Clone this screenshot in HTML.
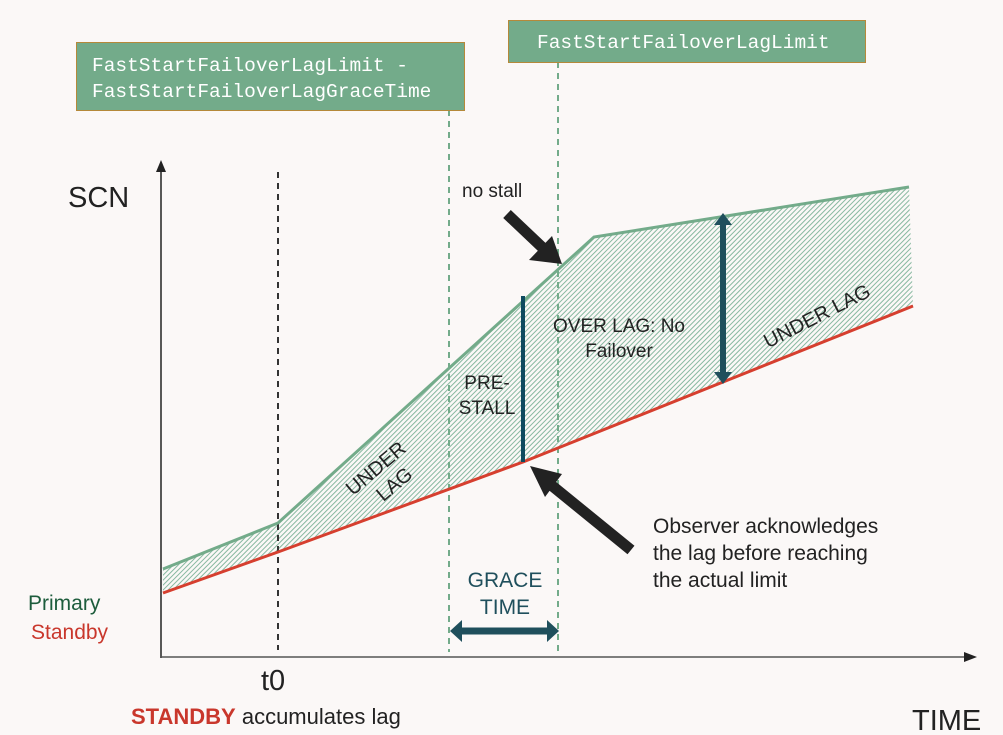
<!DOCTYPE html>
<html><head><meta charset="utf-8"><style>
html,body{margin:0;padding:0;background:#fbf8f7;}
svg{display:block;}
text{font-family:"Liberation Sans","DejaVu Sans",sans-serif;}
.mono{font-family:"Liberation Mono",monospace;font-size:19.5px;fill:#fff;}
</style></head><body>
<svg width="1003" height="735" viewBox="0 0 1003 735" xmlns="http://www.w3.org/2000/svg">
<defs>
<pattern id="h" width="3.5" height="3.5" patternUnits="userSpaceOnUse" patternTransform="rotate(45)">
<rect width="3.5" height="3.5" fill="#fbf8f7"/>
<rect width="1" height="3.5" fill="#6aa88a"/>
</pattern>
</defs>
<rect width="1003" height="735" fill="#fbf8f7"/>
<polygon points="163,569 278,523 594,237 909,187 913,306 523,462 278,552 163,593" fill="url(#h)" opacity="0.8"/>
<line x1="161" y1="170" x2="161" y2="658" stroke="#222" stroke-width="1.5"/>
<polygon points="161,160 156,172 166,172" fill="#222"/>
<line x1="161" y1="657" x2="966" y2="657" stroke="#555" stroke-width="1.5"/>
<polygon points="977,657 964,652 964,662" fill="#222"/>
<line x1="278" y1="172" x2="278" y2="650" stroke="#333" stroke-width="2" stroke-dasharray="6,5"/>
<line x1="449" y1="110" x2="449" y2="652" stroke="#73ab8a" stroke-width="2" stroke-dasharray="6,5"/>
<line x1="558" y1="62" x2="558" y2="652" stroke="#73ab8a" stroke-width="2" stroke-dasharray="6,5"/>
<polyline points="163,569 278,523 594,237 909,187" fill="none" stroke="#73ab8a" stroke-width="3"/>
<polyline points="163,593 278,552 523,462 913,306" fill="none" stroke="#d63f2f" stroke-width="3"/>
<line x1="523" y1="296" x2="523" y2="462" stroke="#0e4a5f" stroke-width="4"/>
<line x1="723" y1="222" x2="723" y2="376" stroke="#1f4f5c" stroke-width="6"/>
<polygon points="723,213 714,225 732,225" fill="#1f4f5c"/>
<polygon points="723,384 714,372 732,372" fill="#1f4f5c"/>
<line x1="460" y1="631" x2="548" y2="631" stroke="#1f4f5c" stroke-width="7"/>
<polygon points="450,631 462,620 462,642" fill="#1f4f5c"/>
<polygon points="559,631 547,620 547,642" fill="#1f4f5c"/>
<line x1="507" y1="214" x2="545" y2="250" stroke="#222" stroke-width="11"/>
<polygon points="562,264 529,260 552,236" fill="#222"/>
<line x1="631" y1="550" x2="545" y2="480" stroke="#222" stroke-width="11"/>
<polygon points="530,466 545,497 562,474" fill="#222"/>
<rect x="76.5" y="42.5" width="388" height="68" fill="#73ab8a" stroke="#b5893a" stroke-width="1"/>
<text x="92" y="71" class="mono">FastStartFailoverLagLimit -</text>
<text x="92" y="97" class="mono">FastStartFailoverLagGraceTime</text>
<rect x="508.5" y="20.5" width="357" height="42" fill="#73ab8a" stroke="#b5893a" stroke-width="1"/>
<text x="537" y="48" class="mono">FastStartFailoverLagLimit</text>
<text x="68" y="207" font-size="29" fill="#222">SCN</text>
<text x="912" y="730" font-size="29" fill="#222">TIME</text>
<text x="28" y="610" font-size="21" fill="#1d5c3c">Primary</text>
<text x="31" y="639" font-size="21" fill="#c9372c">Standby</text>
<text x="261" y="690" font-size="29" fill="#222">t0</text>
<text x="131" y="724" font-size="22"><tspan fill="#c9372c" font-weight="bold">STANDBY</tspan><tspan fill="#222"> accumulates lag</tspan></text>
<text x="462" y="197" font-size="19" fill="#222">no stall</text>
<text x="653" y="533" font-size="21" fill="#222">Observer acknowledges</text>
<text x="653" y="560" font-size="21" fill="#222">the lag before reaching</text>
<text x="653" y="587" font-size="21" fill="#222">the actual limit</text>
<text x="505" y="587" font-size="21" fill="#1f4f5c" text-anchor="middle">GRACE</text>
<text x="505" y="614" font-size="21" fill="#1f4f5c" text-anchor="middle">TIME</text>
<text x="487" y="389" font-size="19" fill="#222" text-anchor="middle">PRE-</text>
<text x="487" y="414" font-size="19" fill="#222" text-anchor="middle">STALL</text>
<text x="619" y="332" font-size="19" fill="#222" text-anchor="middle">OVER LAG: No</text>
<text x="619" y="357" font-size="19" fill="#222" text-anchor="middle">Failover</text>
<g transform="translate(384,478) rotate(-40)">
<text x="0" y="-6" font-size="20" fill="#222" text-anchor="middle">UNDER</text>
<text x="4" y="18" font-size="20" fill="#222" text-anchor="middle">LAG</text>
</g>
<text transform="translate(820,322) rotate(-27)" font-size="20" fill="#222" text-anchor="middle">UNDER LAG</text>
</svg>
</body></html>
